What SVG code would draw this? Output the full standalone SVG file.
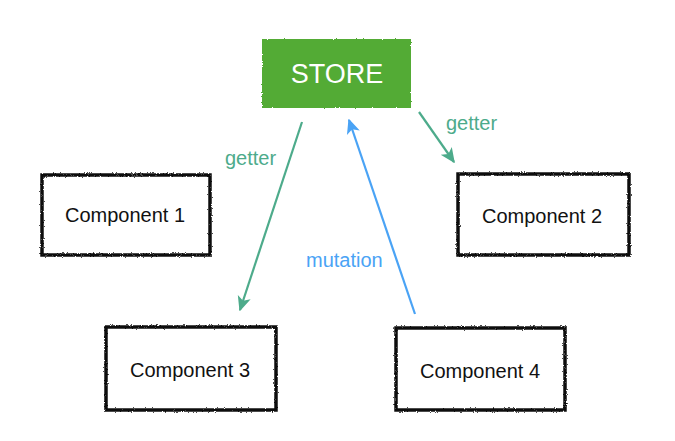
<svg xmlns="http://www.w3.org/2000/svg" width="675" height="441" viewBox="0 0 675 441">
<defs>
<filter id="rough" x="-5%" y="-5%" width="110%" height="110%">
<feTurbulence type="fractalNoise" baseFrequency="0.9" numOctaves="2" seed="3" result="n"/>
<feDisplacementMap in="SourceGraphic" in2="n" scale="2.6" xChannelSelector="R" yChannelSelector="G"/>
</filter>
<marker id="ag" viewBox="0 0 10 10" refX="9" refY="5" markerWidth="15" markerHeight="15" orient="auto" markerUnits="userSpaceOnUse">
<path d="M0,0.5 L10,5 L0,9.5 L2.5,5 Z" fill="#4dab8b"/>
</marker>
<marker id="ab" viewBox="0 0 10 10" refX="9" refY="5" markerWidth="15" markerHeight="15" orient="auto" markerUnits="userSpaceOnUse">
<path d="M0,0.5 L10,5 L0,9.5 L2.5,5 Z" fill="#4aa3f5"/>
</marker>
<style>
.box{fill:#fff;stroke:#111;stroke-width:3.5;filter:url(#rough)}
.lbl{font-family:"Liberation Sans",Arial,sans-serif;font-size:20px;fill:#111;text-anchor:middle;dominant-baseline:central}
.g{stroke:#4dab8b;stroke-width:2.2;fill:none}
.b{stroke:#4aa3f5;stroke-width:2.2;fill:none}
.gt{font-family:"Liberation Sans",Arial,sans-serif;font-size:20px;fill:#4dab8b}
.bt{font-family:"Liberation Sans",Arial,sans-serif;font-size:20px;fill:#4aa3f5}
</style>
</defs>
<rect width="675" height="441" fill="#fff"/>
<g id="store">
<rect x="262" y="39" width="149" height="69" fill="#52ab35" filter="url(#rough)"/>
<text x="337" y="74" font-family="'Liberation Sans',Arial,sans-serif" font-size="27" fill="#fff" text-anchor="middle" dominant-baseline="central">STORE</text>
</g>
<g id="component1">
<rect class="box" x="42" y="175" width="168" height="80"/>
<text class="lbl" x="125" y="215">Component 1</text>
</g>
<g id="component2">
<rect class="box" x="458" y="174" width="171" height="81"/>
<text class="lbl" x="542" y="216">Component 2</text>
</g>
<g id="component3">
<rect class="box" x="106" y="327" width="170" height="83"/>
<text class="lbl" x="190" y="370">Component 3</text>
</g>
<g id="component4">
<rect class="box" x="396" y="328" width="169" height="82"/>
<text class="lbl" x="480" y="371">Component 4</text>
</g>
<g id="connectors">
<line class="g" x1="302" y1="122" x2="240" y2="310" marker-end="url(#ag)"/>
<line class="b" x1="415" y1="314" x2="349" y2="120" marker-end="url(#ab)"/>
<line class="g" x1="419" y1="112" x2="454" y2="162" marker-end="url(#ag)"/>
<text class="gt" x="225" y="165">getter</text>
<text class="bt" x="306" y="267">mutation</text>
<text class="gt" x="446" y="130">getter</text>
</g>
</svg>
